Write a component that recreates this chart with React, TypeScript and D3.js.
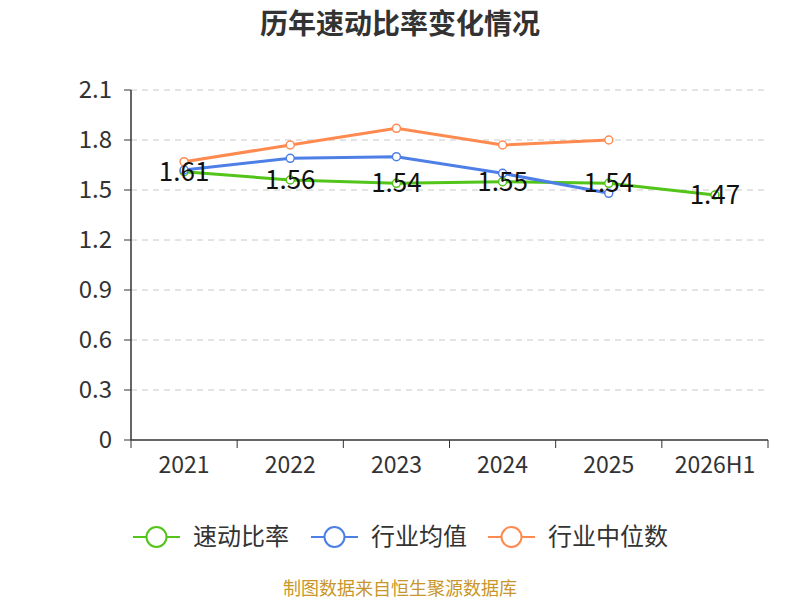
import * as d3 from "d3";

const years = ["2021", "2022", "2023", "2024", "2025", "2026H1"];
const quickRatio = [1.61, 1.56, 1.54, 1.55, 1.54, 1.47];
const industryMean = [1.62, 1.69, 1.7, 1.6, 1.48];
const industryMedian = [1.67, 1.77, 1.87, 1.77, 1.8];
const yTicks = [0, 0.3, 0.6, 0.9, 1.2, 1.5, 1.8, 2.1];

const seriesList = [
  { name: "速动比率", color: "#52c41a", values: quickRatio, labels: true },
  { name: "行业均值", color: "#4e7fe6", values: industryMean, labels: false },
  { name: "行业中位数", color: "#ff8a50", values: industryMedian, labels: false },
];

const W = 800;
const H = 600;
const margin = { top: 90, right: 32, bottom: 160, left: 131 };
const font = "'Noto Sans CJK SC', 'Noto Sans', sans-serif";

export default function App() {
  const x = d3
    .scaleBand<string>()
    .domain(years)
    .range([margin.left, W - margin.right]);
  const y = d3
    .scaleLinear()
    .domain([0, 2.1])
    .range([H - margin.bottom, margin.top]);
  const cx = (i: number) => x(years[i])! + x.bandwidth() / 2;
  const line = d3
    .line<number>()
    .x((_, i) => cx(i))
    .y((d) => y(d));

  const legendX = [133, 311, 488];

  return (
    <svg
      width={W}
      height={H}
      style={{ position: "absolute", left: 0, top: 0, fontFamily: font }}
    >
      <rect width={W} height={H} fill="#fff" />
      <text x={400} y={34} textAnchor="middle" fontSize={28} fontWeight="bold" fill="#333">
        历年速动比率变化情况
      </text>

      {/* grid + y axis */}
      {yTicks.map((t) => (
        <g key={t}>
          {t > 0 && (
            <line
              x1={margin.left}
              x2={W - margin.right}
              y1={y(t)}
              y2={y(t)}
              stroke="#c8c8c8"
              strokeDasharray="6,5"
            />
          )}
          <line x1={margin.left - 7} x2={margin.left} y1={y(t)} y2={y(t)} stroke="#333" />
          <text
            x={margin.left - 19}
            y={y(t)}
            dy="0.35em"
            textAnchor="end"
            fontSize={24}
            fill="#333"
          >
            {t === 0 ? "0" : t.toFixed(1)}
          </text>
        </g>
      ))}
      <line x1={margin.left} x2={margin.left} y1={y(2.1)} y2={y(0)} stroke="#333" strokeWidth={1.5} />

      {/* x axis */}
      <line x1={margin.left} x2={W - margin.right} y1={y(0)} y2={y(0)} stroke="#333" strokeWidth={1.5} />
      {years.map((yr, i) => (
        <g key={yr}>
          <line x1={x(yr)!} x2={x(yr)!} y1={y(0)} y2={y(0) + 8} stroke="#333" />
          <text x={cx(i)} y={y(0) + 25} dy="0.35em" textAnchor="middle" fontSize={23} fill="#333">
            {yr}
          </text>
        </g>
      ))}
      <line x1={W - margin.right} x2={W - margin.right} y1={y(0)} y2={y(0) + 8} stroke="#333" />

      {/* lines */}
      {seriesList.map((s) => (
        <g key={s.name}>
          <path d={line(s.values)!} fill="none" stroke={s.color} strokeWidth={3} />
          {s.values.map((v, i) => (
            <circle key={i} cx={cx(i)} cy={y(v)} r={4} fill="#fff" stroke={s.color} strokeWidth={1.5} />
          ))}
        </g>
      ))}
      {seriesList
        .filter((s) => s.labels)
        .map((s) =>
          s.values.map((v, i) => (
            <text
              key={s.name + i}
              x={cx(i)}
              y={y(v)}
              dy="0.35em"
              textAnchor="middle"
              fontSize={26}
              fill="#111"
            >
              {v.toFixed(2)}
            </text>
          ))
        )}

      {/* legend */}
      {seriesList.map((s, i) => (
        <g key={s.name} transform={`translate(${legendX[i]},537)`}>
          <line x1={0} x2={47} y1={0} y2={0} stroke={s.color} strokeWidth={2} />
          <circle cx={23.5} cy={0} r={10} fill="#fff" stroke={s.color} strokeWidth={2} />
          <text x={60} y={0} dy="0.35em" fontSize={24} fill="#333">
            {s.name}
          </text>
        </g>
      ))}

      <text x={400} y={589} dy="0.35em" textAnchor="middle" fontSize={18} fill="#c8962a">
        制图数据来自恒生聚源数据库
      </text>
    </svg>
  );
}
